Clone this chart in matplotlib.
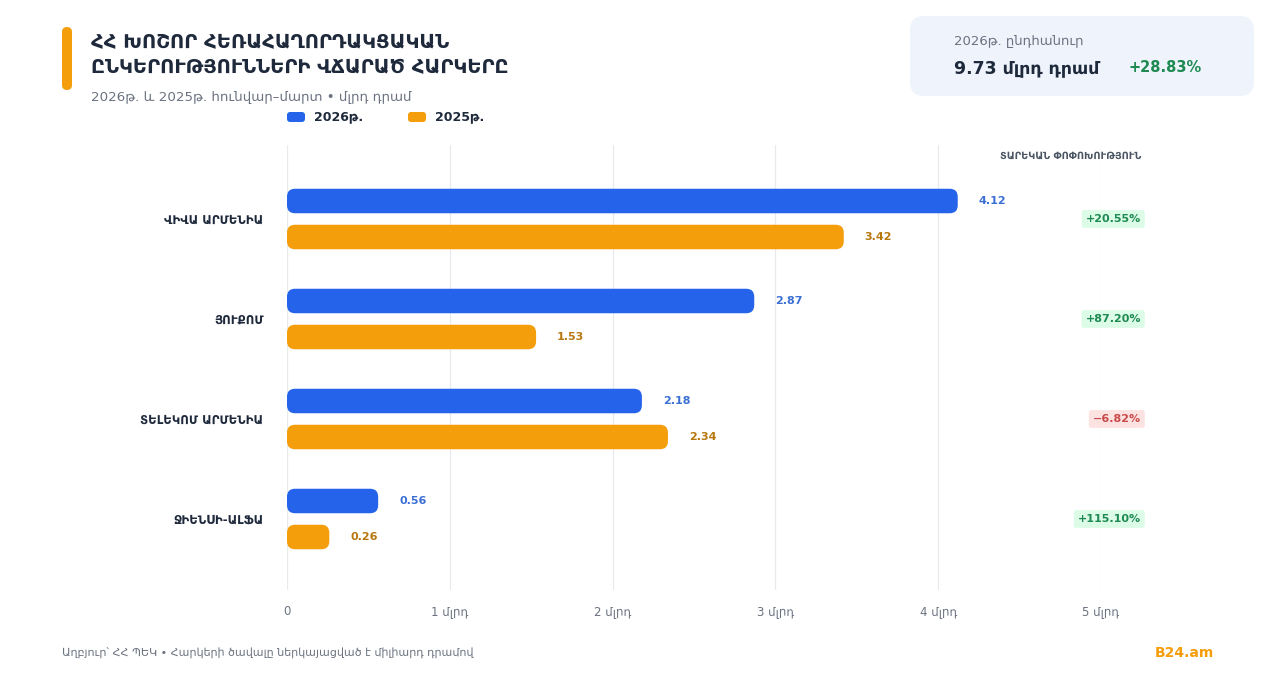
import matplotlib
matplotlib.use("Agg")
import matplotlib.pyplot as plt
from matplotlib.patches import FancyBboxPatch

plt.rcParams['font.family'] = ['DejaVu Sans']

# ---------------- data ----------------
categories = ["ՎԻՎԱ ԱՐՄԵՆԻԱ", "ՅՈՒՔՈՄ", "ՏԵԼԵԿՈՄ ԱՐՄԵՆԻԱ", "ՋԻԵՆՍԻ-ԱԼՖԱ"]
values_2026 = [4.12, 2.87, 2.18, 0.56]
values_2025 = [3.42, 1.53, 2.34, 0.26]
changes = ["+20.55%", "+87.20%", "−6.82%", "+115.10%"]
change_positive = [True, True, False, True]
xticks = [0, 1, 2, 3, 4, 5]
xtick_labels = ["0", "1 մլրդ", "2 մլրդ", "3 մլրդ", "4 մլրդ", "5 մլրդ"]
series_labels = ["2026թ.", "2025թ."]
title_lines = ["ՀՀ ԽՈՇՈՐ ՀԵՌԱՀԱՂՈՐԴԱԿՑԱԿԱՆ", "ԸՆԿԵՐՈՒԹՅՈՒՆՆԵՐԻ ՎՃԱՐԱԾ ՀԱՐԿԵՐԸ"]
subtitle = "2026թ. և 2025թ. հունվար–մարտ • մլրդ դրամ"
total_label = "2026թ. ընդհանուր"
total_value = "9.73 մլրդ դրամ"
total_change = "+28.83%"
change_header = "ՏԱՐԵԿԱՆ ՓՈՓՈԽՈՒԹՅՈՒՆ"
footer = "Աղբյուր՝ ՀՀ ՊԵԿ • Հարկերի ծավալը ներկայացված է միլիարդ դրամով"
brand = "B24.am"

# ---------------- style ----------------
BLUE = "#2563eb"
ORANGE = "#f59e0b"
BLUE_TXT = "#3b6fd4"
ORANGE_TXT = "#b7770f"
DARK = "#1e293b"
GRAY = "#6b7280"
GRID = "#e8eaee"

W, H = 1280, 693
fig = plt.figure(figsize=(W / 100, H / 100), dpi=100)
fig.patch.set_facecolor("white")


def fx(x):
    return x / W


def fy(y):
    return 1 - y / H


# axes placement (pixels)
ax_l, ax_r, ax_t, ax_b = 287, 1101, 145, 590
ax = fig.add_axes([fx(ax_l), fy(ax_b), (ax_r - ax_l) / W, (ax_b - ax_t) / H])
ax.set_xlim(0, 5)
ax.set_ylim(3.71, -0.74)
for s in ax.spines.values():
    s.set_visible(False)
ax.set_facecolor("none")

for t in xticks:
    ax.axvline(t, color=GRID, lw=0.9, zorder=0)

ax.set_xticks(xticks, xtick_labels)
ax.tick_params(axis="x", length=0, pad=11, labelsize=8.5, labelcolor=GRAY)
ax.set_yticks(range(len(categories)), categories)
ax.tick_params(axis="y", length=0, pad=17, labelsize=8.5, labelcolor=DARK)
for lbl in ax.get_yticklabels():
    lbl.set_fontweight("bold")

px_x = (ax_r - ax_l) / 5.0   # pixels per x unit
px_y = (ax_b - ax_t) / (3.71 + 0.74)
aspect = px_x / px_y
bar_h = 0.245
off = 0.18
rad_px = 8

for i, (v26, v25) in enumerate(zip(values_2026, values_2025)):
    for v, dy, col, tcol in ((v26, -off, BLUE, BLUE_TXT), (v25, off, ORANGE, ORANGE_TXT)):
        yc = i + dy
        p = FancyBboxPatch((0, yc - bar_h / 2), v, bar_h,
                           boxstyle=f"round,pad=0,rounding_size={rad_px / px_x}",
                           mutation_aspect=aspect, fc=col, ec="none", zorder=2)
        ax.add_patch(p)
        ax.annotate(f"{v:.2f}", (v, yc), xytext=(21, 0), textcoords="offset pixels",
                    ha="left", va="center", fontsize=8, fontweight="bold", color=tcol)
    pos = change_positive[i]
    ax.text(5.245, i, changes[i], ha="right", va="center", fontsize=8, fontweight="bold",
            color="#1e8a52" if pos else "#c94a4a", clip_on=False, zorder=4,
            bbox=dict(boxstyle="round,pad=0.35,rounding_size=0.2",
                      fc="#dcfce7" if pos else "#fde2e2", ec="none"))

# header above badges
fig.text(fx(1141), fy(156), change_header, ha="right", va="center", fontsize=7,
         fontweight="bold", color="#4b5563")

# accent bar
fig.patches.append(FancyBboxPatch((fx(62), fy(90)), fx(10), (90 - 27) / H,
                                  boxstyle=f"round,pad=0,rounding_size={5 / W}",
                                  mutation_aspect=W / H, fc=ORANGE, ec="none",
                                  transform=fig.transFigure, figure=fig))

# title / subtitle
fig.text(fx(91), fy(42), title_lines[0], ha="left", va="center", fontsize=14,
         fontweight="bold", color=DARK)
fig.text(fx(91), fy(68), title_lines[1], ha="left", va="center", fontsize=14,
         fontweight="bold", color=DARK)
fig.text(fx(91), fy(97), subtitle, ha="left", va="center", fontsize=9.6, color=GRAY)

# legend
for (lx, col, lab) in ((287, BLUE, series_labels[0]), (408, ORANGE, series_labels[1])):
    fig.patches.append(FancyBboxPatch((fx(lx), fy(122)), fx(18), 10 / H,
                                      boxstyle=f"round,pad=0,rounding_size={3 / W}",
                                      mutation_aspect=W / H, fc=col, ec="none",
                                      transform=fig.transFigure, figure=fig))
    fig.text(fx(lx + 27), fy(117), lab, ha="left", va="center", fontsize=9,
             fontweight="bold", color=DARK)

# info box
fig.patches.append(FancyBboxPatch((fx(910), fy(96)), fx(344), 80 / H,
                                  boxstyle=f"round,pad=0,rounding_size={14 / W}",
                                  mutation_aspect=W / H, fc="#eef3fc", ec="none",
                                  transform=fig.transFigure, figure=fig))
fig.text(fx(954), fy(41), total_label, ha="left", va="center", fontsize=9.5, color=GRAY)
fig.text(fx(954), fy(68), total_value, ha="left", va="center", fontsize=12.5,
         fontweight="bold", color=DARK)
fig.text(fx(1128), fy(68), total_change, ha="left", va="center", fontsize=10.5,
         fontweight="bold", color="#1e8a52")

# footer
fig.text(fx(62), fy(653), footer, ha="left", va="center", fontsize=8, color=GRAY)
fig.text(fx(1214), fy(653), brand, ha="right", va="center", fontsize=10,
         fontweight="bold", color=ORANGE)

fig.savefig("out.png", dpi=100, facecolor="white")
